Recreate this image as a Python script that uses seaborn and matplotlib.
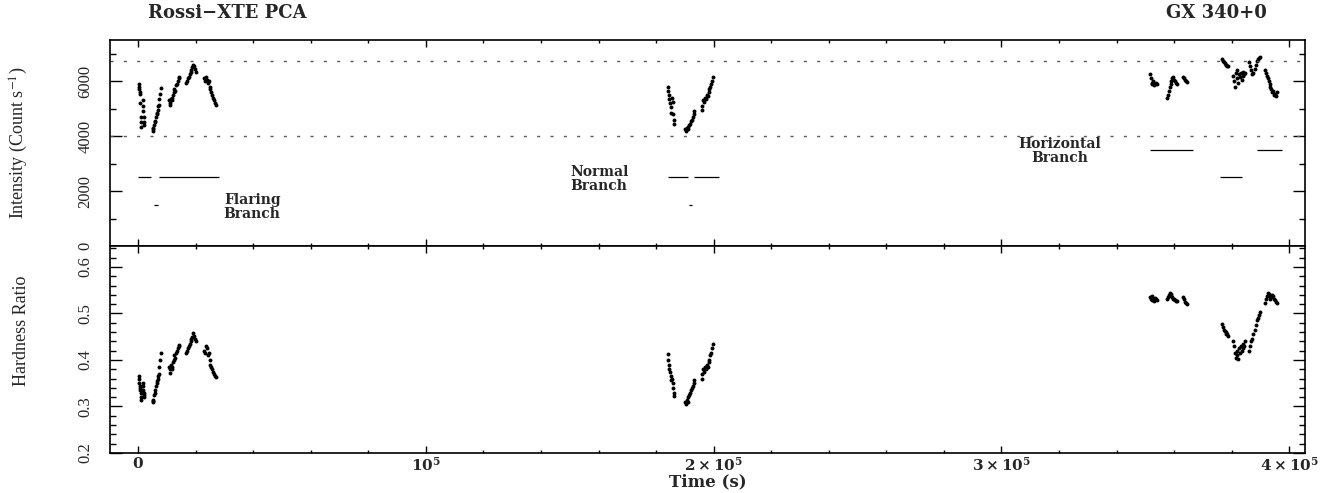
import matplotlib
matplotlib.use("Agg")
import matplotlib.pyplot as plt
import numpy as np
import pandas as pd
import seaborn as sns
from matplotlib.ticker import MultipleLocator

# ---------------- data (time in ks) ----------------
# Flaring branch observation
fb_time_ks = [0.2, 0.3, 0.4, 0.5, 0.6, 0.7, 0.8, 0.9, 1.0, 1.6, 1.7, 1.8, 1.9, 2.0, 2.1,
              5.0, 5.2, 5.3, 5.6, 5.8, 5.9, 6.2, 6.4, 6.5, 6.8, 7.0, 7.1, 7.4, 7.7, 8.0,
              10.8, 11.0, 11.2, 11.4, 11.6, 11.8, 12.0, 12.3, 12.6, 12.9, 13.2, 13.5, 13.8, 14.1, 14.3,
              16.7, 17.0, 17.3, 17.6, 17.9, 18.2, 18.5, 18.8, 19.1, 19.4, 19.7, 20.0,
              23.0, 23.3, 23.6, 23.9, 24.2, 24.5, 24.8, 25.1, 25.4, 25.7, 26.0, 26.3, 26.6, 26.9]
fb_int = [5900, 5800, 5700, 5600, 5550, 5200, 4700, 4500, 4350, 5300, 5100, 4900, 4700, 4500, 4400,
          4200, 4300, 4250, 4400, 4500, 4550, 4700, 4800, 4850, 4950, 5100, 5150, 5350, 5550, 5750,
          5300, 5200, 5150, 5350, 5400, 5300, 5500, 5600, 5700, 5650, 5850, 5900, 6000, 6100, 6150,
          5950, 6000, 6100, 6150, 6250, 6350, 6400, 6500, 6600, 6550, 6450, 6350,
          6100, 6000, 6150, 6050, 5950, 6000, 5800, 5700, 5600, 5500, 5400, 5300, 5200, 5150]
fb_hr = [0.365, 0.36, 0.35, 0.345, 0.34, 0.335, 0.33, 0.32, 0.315, 0.35, 0.345, 0.335, 0.33, 0.325, 0.32,
         0.31, 0.312, 0.315, 0.325, 0.33, 0.335, 0.345, 0.35, 0.355, 0.36, 0.365, 0.37, 0.385, 0.40, 0.415,
         0.385, 0.38, 0.373, 0.39, 0.385, 0.38, 0.395, 0.40, 0.41, 0.405, 0.415, 0.42, 0.425, 0.43, 0.433,
         0.415, 0.42, 0.425, 0.43, 0.435, 0.44, 0.445, 0.45, 0.458, 0.452, 0.445, 0.44,
         0.42, 0.415, 0.43, 0.425, 0.41, 0.415, 0.40, 0.39, 0.385, 0.38, 0.375, 0.37, 0.365, 0.363]

# Normal branch observation
nb_time_ks = [184.0, 184.2, 184.4, 184.6, 184.8, 185.0, 185.2,
              185.5, 185.7, 185.9, 186.1, 186.3,
              190.0, 190.3, 190.6, 190.9, 191.2, 191.5, 191.8, 192.1, 192.4, 192.7, 193.0, 193.3,
              195.8, 196.1, 196.4, 196.7, 197.0, 197.3, 197.6, 197.9, 198.2, 198.5, 198.8, 199.1, 199.4, 199.7]
nb_int = [5800, 5650, 5500, 5350, 5200, 5050, 4850,
          5400, 5250, 4800, 4600, 4450,
          4250, 4200, 4300, 4250, 4350, 4400, 4450, 4550, 4600, 4700, 4800, 4900,
          4950, 5100, 5300, 5250, 5400, 5350, 5500, 5450, 5600, 5700, 5800, 5900, 6000, 6150]
nb_hr = [0.413, 0.40, 0.39, 0.38, 0.375, 0.365, 0.358,
         0.36, 0.35, 0.34, 0.33, 0.322,
         0.31, 0.305, 0.315, 0.31, 0.32, 0.325, 0.33, 0.335, 0.34, 0.345, 0.35, 0.358,
         0.36, 0.37, 0.38, 0.375, 0.385, 0.38, 0.39, 0.385, 0.395, 0.40, 0.41, 0.415, 0.425, 0.435]

# Horizontal branch observation
hb_time_ks = [351.6, 351.9, 352.2, 352.5, 352.8, 353.1, 353.4, 353.7, 354.0,
              357.6, 357.9, 358.2, 358.5, 358.8, 359.1, 359.4, 359.7, 360.0, 360.3, 360.6, 361.0,
              363.0, 363.4, 363.8, 364.2, 364.5,
              376.7, 377.0, 377.3, 377.6, 377.9, 378.2, 378.5, 378.8,
              380.5, 380.8, 381.1, 381.4, 381.7, 382.0, 382.3, 382.6, 382.9, 383.2, 383.5, 383.8, 384.1, 384.4, 384.7,
              386.0, 386.4, 386.8, 387.2, 387.6, 388.0, 388.4, 388.8, 389.2, 389.6, 390.0,
              391.7, 392.0, 392.3, 392.6, 392.9, 393.2, 393.5, 393.8, 394.1, 394.4, 394.7, 395.0, 395.3, 395.6]
hb_int = [6250, 6100, 5950, 5900, 6000, 5850, 5900, 5950, 5900,
          5400, 5500, 5650, 5800, 5900, 6000, 6100, 6150, 6050, 6000, 5950, 5900,
          6150, 6100, 6050, 6000, 5980,
          6800, 6750, 6700, 6650, 6600, 6580, 6560, 6550,
          6200, 6000, 5800, 6300, 6100, 6400, 5950, 6250, 6150, 6300, 6050, 6200, 6350, 6250, 6300,
          6700, 6550, 6400, 6250, 6300, 6450, 6600, 6750, 6820, 6860, 6880,
          6400, 6300, 6200, 6100, 6000, 5900, 5800, 5700, 5600, 5650, 5500, 5550, 5450, 5600]
hb_hr = [0.535, 0.53, 0.537, 0.528, 0.532, 0.526, 0.534, 0.53, 0.528,
         0.53, 0.535, 0.54, 0.544, 0.542, 0.538, 0.535, 0.532, 0.53, 0.528, 0.527, 0.526,
         0.535, 0.53, 0.525, 0.522, 0.52,
         0.478, 0.47, 0.465, 0.462, 0.46, 0.456, 0.455, 0.452,
         0.44, 0.43, 0.415, 0.405, 0.42, 0.41, 0.402, 0.425, 0.415, 0.43, 0.42, 0.435, 0.425, 0.43, 0.44,
         0.42, 0.43, 0.44, 0.445, 0.455, 0.465, 0.475, 0.485, 0.49, 0.497, 0.504,
         0.522, 0.53, 0.538, 0.544, 0.542, 0.536, 0.53, 0.535, 0.54, 0.538, 0.532, 0.528, 0.525, 0.522]

# observation-interval bars in the intensity panel
bar_start_ks = [0.0, 7.3, 5.5, 184.0, 193.0, 191.5, 351.6, 388.9, 376.0]
bar_end_ks = [4.5, 28.2, 7.0, 191.0, 201.7, 192.4, 366.6, 397.6, 383.7]
bar_level = [2500, 2500, 1500, 2500, 2500, 1500, 3500, 3500, 2500]

# horizontal dotted reference levels
ref_levels = [4000, 6750]

# branch labels
branch_text = ["Flaring\nBranch", "Normal\nBranch", "Horizontal\nBranch"]
branch_t_ks = [39.6, 160.2, 320.2]
branch_int = [1420, 2440, 3460]

xtick_vals = [0, 1e5, 2e5, 3e5, 4e5]
xtick_text = [r"$\mathbf{0}$", r"$\mathbf{10^5}$", r"$\mathbf{2\times10^5}$",
              r"$\mathbf{3\times10^5}$", r"$\mathbf{4\times10^5}$"]
int_ticks = [0, 2000, 4000, 6000]
int_tick_text = ["0", "2000", "4000", "6000"]
hr_ticks = [0.2, 0.3, 0.4, 0.5, 0.6]
hr_tick_text = ["0.2", "0.3", "0.4", "0.5", "0.6"]

# ---------------- frame ----------------
df = pd.DataFrame({
    "time": np.concatenate([fb_time_ks, nb_time_ks, hb_time_ks]) * 1e3,
    "intensity": np.concatenate([fb_int, nb_int, hb_int]),
    "hardness": np.concatenate([fb_hr, nb_hr, hb_hr]),
})

sns.set_theme(style="ticks")
plt.rcParams["font.family"] = ["DejaVu Serif"]
plt.rcParams["mathtext.fontset"] = "dejavuserif"
plt.rcParams["axes.edgecolor"] = "black"
plt.rcParams["axes.linewidth"] = 1.2

W, H = 1343, 493
fig = plt.figure(figsize=(W / 100, H / 100), dpi=100)
fig.patch.set_facecolor("white")
ax1 = fig.add_axes([110 / W, 1 - 246 / H, 1195 / W, 206 / H])
ax2 = fig.add_axes([110 / W, 1 - 453 / H, 1195 / W, 207 / H], sharex=ax1)

sns.scatterplot(data=df, x="time", y="intensity", ax=ax1, color="black",
                s=8, linewidth=0, legend=False)
sns.scatterplot(data=df, x="time", y="hardness", ax=ax2, color="black",
                s=8, linewidth=0, legend=False)

for lvl in ref_levels:
    ax1.axhline(lvl, color="0.35", lw=1.0, dashes=(2.2, 7.4))

ax1.hlines(bar_level, np.array(bar_start_ks) * 1e3, np.array(bar_end_ks) * 1e3,
           color="black", lw=0.9)

for txt, tx, ty in zip(branch_text, branch_t_ks, branch_int):
    ax1.text(tx * 1e3, ty, txt, ha="center", va="center", multialignment="center",
             fontfamily="DejaVu Serif", fontweight="bold", fontsize=10, linespacing=0.95)

ax1.set_xlim(-9.8e3, 405.5e3)
ax1.set_ylim(0, 7500)
ax2.set_ylim(0.2, 0.645)

for ax in (ax1, ax2):
    ax.set_xlabel("")
    ax.set_ylabel("")
    ax.grid(False)
    ax.tick_params(which="both", direction="in", top=True, right=True,
                   width=1.0, color="black")
    ax.tick_params(axis="x", which="major", length=5)
    ax.tick_params(axis="x", which="minor", length=2.5)
    ax.tick_params(axis="y", which="major", length=8.5, pad=12)
    ax.tick_params(axis="y", which="minor", length=4.5)
    ax.xaxis.set_minor_locator(MultipleLocator(2e4))

ax1.set_yticks(int_ticks)
ax1.set_yticklabels(int_tick_text, rotation=90, va="center",
                    fontfamily="Liberation Serif", fontsize=12)
ax1.yaxis.set_minor_locator(MultipleLocator(1000))
ax2.set_yticks(hr_ticks)
ax2.set_yticklabels(hr_tick_text, rotation=90, va="center",
                    fontfamily="Liberation Serif", fontsize=12)
ax2.yaxis.set_minor_locator(MultipleLocator(0.02))

ax2.set_xticks(xtick_vals)
ax2.set_xticklabels(xtick_text, fontsize=11)
ax2.tick_params(axis="x", which="major", pad=2)
ax1.tick_params(labelbottom=False)

ax1.set_ylabel("Intensity (Count s$^{-1}$)", fontfamily="Liberation Serif",
               fontsize=13, math_fontfamily="stix")
ax1.yaxis.set_label_coords(-0.067, 0.5)
ax2.set_ylabel("Hardness Ratio", fontfamily="Liberation Serif", fontsize=13)
ax2.yaxis.set_label_coords(-0.067, 0.59)
ax2.set_xlabel("Time (s)", fontfamily="DejaVu Serif", fontweight="bold", fontsize=12)
ax2.xaxis.label.set_va("center")
ax2.xaxis.set_label_coords(0.5, -(482 - 453) / 207)

fig.text(148 / W, 1 - 13 / H, "Rossi\u2212XTE PCA", ha="left", va="center",
         fontfamily="DejaVu Serif", fontweight="bold", fontsize=13)
fig.text(1267 / W, 1 - 13 / H, "GX 340+0", ha="right", va="center",
         fontfamily="DejaVu Serif", fontweight="bold", fontsize=13)

fig.savefig("out.png", dpi=100, facecolor="white")
